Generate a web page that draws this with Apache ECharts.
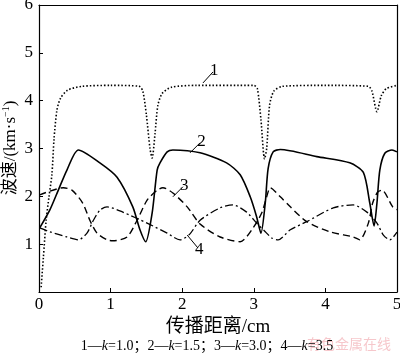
<!DOCTYPE html>
<html>
<head>
<meta charset="utf-8">
<script src="https://cdn.jsdelivr.net/npm/echarts@6/dist/echarts.min.js"></script>
<style>
  html, body { margin: 0; padding: 0; background: #fff; }
  #chart { width: 400px; height: 354px; }
</style>
</head>
<body>
<div id="chart"></div>
<script>
const xTicks = [0, 1, 2, 3, 4, 5]
const yTicks = [0, 1, 2, 3, 4, 5, 6]

// 1 — k=1.0 (dotted)
const curve1 = [
  [0.03, 0.1], [0.06, 0.7], [0.1, 1.5], [0.14, 2.0], [0.18, 2.45], [0.21, 3.2], [0.25, 3.8],
  [0.3, 4.05], [0.4, 4.22], [0.6, 4.3], [1.0, 4.32], [1.4, 4.3], [1.45, 4.2], [1.5, 3.7],
  [1.55, 3.0], [1.58, 2.8], [1.62, 3.3], [1.66, 3.9], [1.72, 4.15], [1.85, 4.28], [2.2, 4.32],
  [3.0, 4.32], [3.05, 4.25], [3.1, 3.6], [3.15, 2.78], [3.18, 3.0], [3.22, 3.9], [3.28, 4.2],
  [3.4, 4.3], [4.0, 4.32], [4.6, 4.3], [4.65, 4.2], [4.72, 3.77], [4.78, 4.1], [4.85, 4.25],
  [5.0, 4.32]
]
// 2 — k=1.5 (solid)
const curve2 = [
  [0.01, 1.34], [0.15, 1.71], [0.27, 2.13], [0.39, 2.55], [0.55, 2.97], [0.85, 2.7],
  [1.09, 2.4], [1.31, 1.78], [1.41, 1.3], [1.49, 1.05], [1.58, 1.65], [1.65, 2.55],
  [1.69, 2.7], [1.79, 2.93], [1.87, 2.97], [2.25, 2.91], [2.62, 2.7], [2.81, 2.45],
  [2.95, 1.99], [3.04, 1.57], [3.1, 1.23], [3.16, 1.86], [3.2, 2.58], [3.27, 2.93],
  [3.37, 2.98], [3.88, 2.83], [4.34, 2.7], [4.53, 2.5], [4.62, 1.86], [4.68, 1.38],
  [4.72, 1.86], [4.76, 2.55], [4.83, 2.9], [4.93, 2.97], [5.0, 2.93]
]
// 3 — k=3.0 (dashed)
const curve3 = [
  [0.01, 2.03], [0.34, 2.18], [0.46, 2.13], [0.61, 1.86], [0.71, 1.5], [0.81, 1.23],
  [0.95, 1.09], [1.03, 1.07], [1.23, 1.15], [1.37, 1.5], [1.51, 1.92], [1.65, 2.13],
  [1.73, 2.18], [1.87, 2.07], [2.07, 1.78], [2.25, 1.42], [2.53, 1.15], [2.81, 1.05],
  [2.99, 1.34], [3.11, 1.65], [3.18, 1.99], [3.23, 2.18], [3.37, 1.99], [3.51, 1.78],
  [3.74, 1.47], [4.06, 1.26], [4.39, 1.15], [4.48, 1.09], [4.6, 1.44], [4.66, 1.86],
  [4.73, 2.09], [4.79, 2.13], [4.94, 1.78], [5.0, 1.72]
]
// 4 — k=3.5 (dash-dot)
const curve4 = [
  [0.01, 1.34], [0.15, 1.26], [0.39, 1.15], [0.55, 1.09], [0.67, 1.23], [0.76, 1.5],
  [0.85, 1.71], [0.95, 1.78], [1.17, 1.67], [1.51, 1.44], [1.79, 1.23], [1.97, 1.09],
  [2.1, 1.2], [2.25, 1.5], [2.53, 1.76], [2.71, 1.82], [2.9, 1.67], [3.04, 1.44],
  [3.16, 1.26], [3.25, 1.13], [3.34, 1.09], [3.51, 1.3], [3.74, 1.47], [4.11, 1.76],
  [4.39, 1.82], [4.58, 1.67], [4.72, 1.44], [4.81, 1.19], [4.9, 1.09], [5.0, 1.25]
]

// leader lines for curve numbers: [from, to, label]
const leaders = [
  [[2.29, 4.37], [2.43, 4.6], '1'],
  [[2.11, 2.91], [2.25, 3.12], '2'],
  [[1.87, 1.99], [2.01, 2.2], '3'],
  [[2.07, 1.19], [2.22, 0.92], '4']
]

const serif = '"Liberation Serif", "Noto Sans CJK SC", serif'

const leaderLine = (i) => ({
  silent: true,
  symbol: 'none',
  animation: false,
  lineStyle: { color: '#000', width: 1, type: 'solid' },
  label: {
    show: true,
    position: 'end',
    formatter: leaders[i][2],
    color: '#000',
    fontFamily: serif,
    fontSize: 17,
    distance: 2
  },
  data: [[{ coord: leaders[i][0] }, { coord: leaders[i][1] }]]
})

const makeSeries = (data, type, width, i) => ({
  type: 'line',
  data: data,
  smooth: 0.25,
  showSymbol: false,
  animation: false,
  lineStyle: { color: '#000', width: width, type: type },
  markLine: leaderLine(i)
})

const frameAxis = (position, max) => ({
  type: 'value', position: position, min: 0, max: max,
  axisLine: { onZero: false, lineStyle: { color: '#000', width: 1.2 } },
  axisTick: { show: false }, axisLabel: { show: false }, splitLine: { show: false }
})

const chart = echarts.init(document.getElementById('chart'))

chart.setOption({
  grid: { left: 39, right: 3, top: 5, bottom: 62, outerBoundsMode: 'none', containLabel: false },
  title: {
    left: 202,
    textAlign: 'center',
    top: 334,
    text: '{n|1—}{k|k}{n|=1.0；2—}{k|k}{n|=1.5；3—}{k|k}{n|=3.0；4—}{k|k}{n|=3.5}',
    textStyle: {
      fontWeight: 'normal',
      rich: {
        n: { fontFamily: serif, fontSize: 14, fontWeight: 'normal', color: '#000' },
        k: { fontFamily: serif, fontSize: 14, fontWeight: 'normal', fontStyle: 'italic', color: '#000' }
      }
    }
  },
  graphic: [
    {
      // y axis name, rotated
      type: 'text',
      x: 11,
      y: 148,
      rotation: Math.PI / 2,
      style: {
        text: '{a|波速/(km·s}{s|−1}{a|)}',
        align: 'center',
        verticalAlign: 'middle',
        rich: {
          a: { fontFamily: serif, fontSize: 17, fill: '#000', lineHeight: 20 },
          s: { fontFamily: serif, fontSize: 10, fill: '#000', lineHeight: 20, padding: [0, 0, 9, 0] }
        }
      }
    },
    {
      type: 'text',
      left: 307,
      top: 337,
      style: { text: '有色金属在线', fill: 'rgba(235,130,140,0.45)', font: '14px "Noto Sans CJK SC"' }
    }
  ],
  xAxis: [{
    type: 'value',
    min: xTicks[0],
    max: xTicks[xTicks.length - 1],
    interval: 1,
    name: '传播距离/cm',
    nameLocation: 'middle',
    nameGap: 24,
    nameTextStyle: { fontFamily: serif, fontSize: 19, color: '#000' },
    axisLine: { onZero: false, lineStyle: { color: '#000', width: 1.2 } },
    axisTick: { inside: true, length: 4, lineStyle: { color: '#000' } },
    axisLabel: { color: '#000', fontFamily: serif, fontSize: 17, margin: 4 },
    splitLine: { show: false }
  }, frameAxis('top', 5)],
  yAxis: [{
    type: 'value',
    min: yTicks[0],
    max: yTicks[yTicks.length - 1],
    interval: 1,
    axisLine: { onZero: false, lineStyle: { color: '#000', width: 1.2 } },
    axisTick: { inside: true, length: 4, lineStyle: { color: '#000' } },
    axisLabel: {
      color: '#000',
      fontFamily: serif,
      fontSize: 17,
      margin: 6,
      formatter: (v) => (v === 0 ? '' : String(v))
    },
    splitLine: { show: false }
  }, frameAxis('right', 6)],
  series: [
    makeSeries(curve1, [1.5, 2], 1.6, 0),
    makeSeries(curve2, 'solid', 1.6, 1),
    makeSeries(curve3, [7, 4], 1.4, 2),
    makeSeries(curve4, [8, 3, 2, 3], 1.3, 3)
  ]
})
</script>
</body>
</html>
